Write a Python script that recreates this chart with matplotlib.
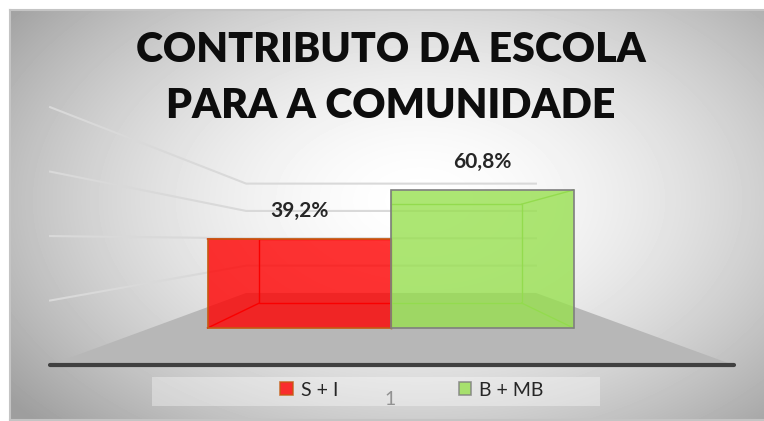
import numpy as np
import matplotlib.pyplot as plt
from matplotlib.patches import Polygon, Rectangle

plt.rcParams['font.family'] = ['Lato', 'DejaVu Sans']

# chart data
categories = ["S + I", "B + MB"]
values = [39.2, 60.8]
value_labels = ["39,2%", "60,8%"]
grid_values = [20, 40, 60, 80]
axis_label = "1"
title = "CONTRIBUTO DA ESCOLA\nPARA A COMUNIDADE"

bar_colors = ["#ff0000", "#98e050"]
line_colors = ["#e60000", "#84c848"]
edge_colors = ["#c55a11", "#7f7f7f"]

# 3d look: vanishing point and depth scale factors
vp_x, vp_v = 0.5, 38.8
k_front, k_bar_back, k_wall = 1.42, 0.716, 0.602
wall_left, wall_right = -0.81, 1.82


def proj(x, v, k):
    """project a point of the front plane to depth factor k"""
    return vp_x + (x - vp_x) * k, vp_v + (v - vp_v) * k


fig = plt.figure(figsize=(7.64, 4.21), dpi=100)
fig.patch.set_facecolor("white")

# chart area with a radial grey gradient
bg = fig.add_axes([10 / 764, 1 / 421, 754 / 764, 410 / 421])
W, H = 754, 410
px, py = np.meshgrid(np.arange(W) + 10, np.arange(H) + 10)
r = np.sqrt(((px - 420) / 400.0) ** 2 + ((py - 200) / 250.0) ** 2)
shade = 255 - 62 * np.clip(r, 0, 1.3) ** 1.7
bg.imshow(shade, cmap="gray", vmin=0, vmax=255, aspect="auto",
          interpolation="bilinear")
bg.set_xticks([])
bg.set_yticks([])
for side in ["left", "bottom", "top"]:
    bg.spines[side].set_color("#c4c4c4")
    bg.spines[side].set_linewidth(1.5)
bg.spines["right"].set_visible(False)

# main axes: x in category units, y in percent (front plane)
ax = fig.add_axes([0, 0, 1, 1])
ax.set_xlim(-299 / 183, 465 / 183)
ax.set_ylim(-93 / 2.27, 328 / 2.27)
ax.patch.set_alpha(0)
ax.axis("off")

# floor
floor = [proj(wall_left, 0, k_front), proj(wall_left, 0, k_wall),
         proj(wall_right, 0, k_wall), proj(wall_right, 0, k_front)]
ax.add_patch(Polygon(floor, closed=True, fc="#b7b7b7", ec="none", zorder=1))

# gridlines on the side and back walls
for v in grid_values:
    pts = [proj(wall_left, v, k_front), proj(wall_left, v, k_wall),
           proj(wall_right, v, k_wall)]
    ax.plot(*zip(*pts), color="#d9d9d9", lw=1.5, zorder=2)

# category axis line
ax.plot(*zip(proj(wall_left, 0, k_front), proj(wall_right, 0, k_front)),
        color="#404040", lw=3, solid_capstyle="round", zorder=3)

# bars as see-through boxes
for i, v in enumerate(values):
    x0, x1 = i - 0.5, i + 0.5
    front = [(x0, 0), (x1, 0), (x1, v), (x0, v)]
    back = [proj(x, y, k_bar_back) for x, y in front]
    ax.add_patch(Polygon(back, closed=True, fc="none", ec=line_colors[i],
                         lw=1, zorder=4))
    for f, b in zip(front, back):
        ax.plot([f[0], b[0]], [f[1], b[1]], color=line_colors[i], lw=1,
                zorder=4)
    ax.add_patch(Rectangle((x0, 0), 1, v, fc=bar_colors[i], alpha=0.8,
                           ec="none", zorder=5))
    ax.add_patch(Rectangle((x0, 0), 1, v, fc="none", ec=edge_colors[i],
                           lw=1.2, zorder=6))
    ax.annotate(value_labels[i], (i, v), xytext=(0, 13),
                textcoords="offset points", ha="center", va="bottom",
                fontsize=15, fontweight="bold", color="#262626", zorder=7)

# category label
ax.annotate(axis_label, proj(0.5, 0, k_front), xytext=(0, -25),
            textcoords="offset points", ha="center", va="center",
            fontsize=14, color="#595959", zorder=8)

# legend
fig.patches.append(Rectangle((152 / 764, 1 - 406 / 421), 448 / 764,
                             29 / 421, transform=fig.transFigure,
                             fc="white", alpha=0.35, ec="none", zorder=2))
handles = [Rectangle((0, 0), 1, 1, fc=bar_colors[i], alpha=0.8,
                     ec=edge_colors[i], lw=1.2) for i in range(len(values))]
fig.legend(handles, categories, loc="center",
           bbox_to_anchor=(412 / 764, 1 - 390 / 421), ncol=2,
           frameon=False, fontsize=14, columnspacing=6.2,
           handlelength=0.65, handleheight=0.65, handletextpad=0.4,
           labelcolor="#262626")

fig.text(391 / 764, 1 - 78 / 421, title, ha="center", va="center",
         fontsize=29.5, fontweight="heavy", color="#0d0d0d", linespacing=1.56)

fig.savefig("out.png", dpi=100)
